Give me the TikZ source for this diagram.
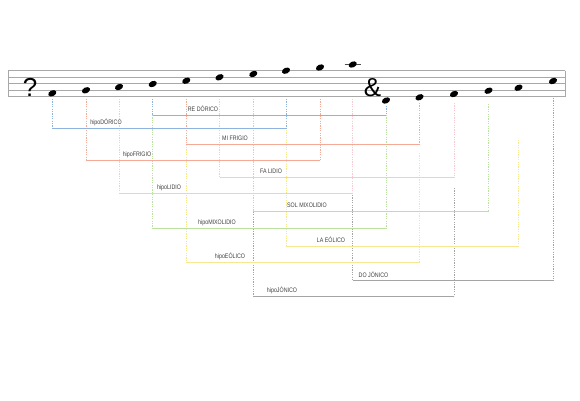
\documentclass[tikz,border=0pt]{standalone}
\usepackage{fontspec}
\usepackage{graphicx}
\setmainfont{Liberation Sans}
\usetikzlibrary{shapes.geometric}
\definecolor{cblue}{HTML}{8DB3DE}
\definecolor{csalmon}{HTML}{F4AA96}
\definecolor{cpink}{HTML}{F7CAD3}
\definecolor{cgreen}{HTML}{BCDFA2}
\definecolor{cyellow}{HTML}{F7E88F}
\definecolor{cgray}{HTML}{A4A4A4}
\definecolor{staffgray}{HTML}{A8A8A8}
\definecolor{labelc}{HTML}{404040}
\newcommand\lab[1]{\scalebox{0.82}[1]{#1}}
\begin{document}
\begin{tikzpicture}[x=1pt,y=-1pt,
  staffline/.style={draw=staffgray,line width=0.8pt},
  notehead/.style={ellipse,fill=black,minimum width=8.6pt,minimum height=5.8pt,inner sep=0pt,rotate=25},
  vline/.style={line width=0.55pt,dash pattern=on 1.2pt off 1.2pt},
  hline/.style={line width=0.85pt},
  lbl/.style={font=\fontsize{6.5}{7}\selectfont,inner sep=0pt,text=labelc},
  clef/.style={font=\fontsize{26}{28}\selectfont,inner sep=0pt,text=black}
]
\useasboundingbox[fill=white] (0,0) rectangle (580,400);
% staff
\foreach \sy in {70.5,77,83.5,90,96.5}
  \draw[staffline] (8,\sy) -- (565,\sy);
\draw[staffline,line width=0.6pt] (8,70.5) -- (8,96.5);
\draw[staffline,line width=0.6pt] (565,70.5) -- (565,96.5);
% clefs
\node[clef] (bass) at (30,87) {?};
\node[clef] (treble) at (372.5,87.5) {\&};
% ledger line
\coordinate (ledA) at (344.5,64.5);
\coordinate (ledB) at (361,64.5);
\draw[line width=0.7pt,black!70] (ledA) -- (ledB);
% notes
\foreach \nx/\ny [count=\i] in {52.3/93.3,86/90.3,119/87,152.7/84,186.3/80.7,219.5/77.3,253.3/74,286/70.7,320/67.5,352.7/64.5,386/100.5,419.5/97.3,454/94,488.5/90.7,518.5/87.7,553/81}
  \node[notehead] (n\i) at (\nx,\ny) {};
% modes: color/left/right/y/label/labelx/startL/startR
\foreach \c/\l/\r/\yy/\t/\lx/\sl/\sr [count=\k] in {
  cgray/7/13/296/{hipoJÓNICO}/282/99/188,
  cgray/10/16/280.5/{DO JÓNICO}/373.5/99/98,
  cyellow/5/12/262.5/{hipoEÓLICO}/230/99/153,
  cyellow/8/15/246/{LA EÓLICO}/331/130/140,
  cgreen/4/11/228.5/{hipoMIXOLIDIO}/217/115/115,
  cgreen/7/14/211.7/{SOL MIXOLIDIO}/307/99/104,
  cpink/3/10/193.5/{hipoLIDIO}/169/99/99,
  cpink/6/13/177.7/{FA LIDIO}/271/99/103,
  csalmon/2/9/160.7/{hipoFRIGIO}/137/99/99,
  csalmon/5/12/144.3/{MI FRIGIO}/235/99/103,
  cblue/1/8/128.5/{hipoDÓRICO}/106/99/99,
  cblue/4/11/115/{RE DÓRICO}/203/99/106}
{
  \draw[vline,\c] (n\l |- 0,\sl) -- (n\l |- 0,\yy);
  \draw[vline,\c] (n\r |- 0,\sr) -- (n\r |- 0,\yy);
  \draw[hline,\c] (n\l |- 0,\yy) -- (n\r |- 0,\yy);
  \node[lbl] (L\k) at (\lx,\yy-6) {\lab{\t}};
}
\end{tikzpicture}
\end{document}
